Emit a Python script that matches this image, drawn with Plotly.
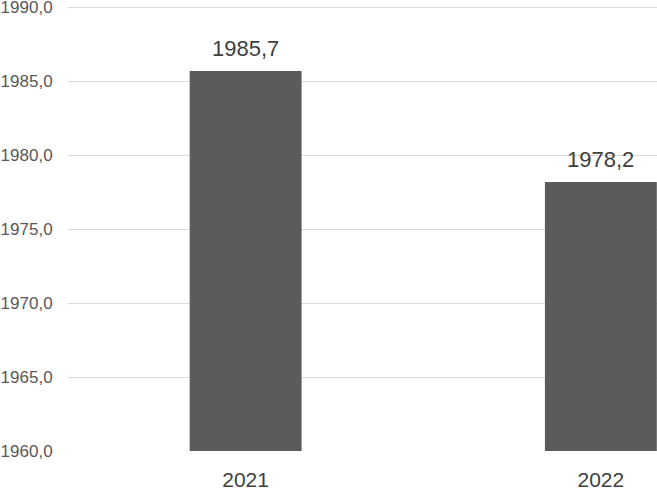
import plotly.graph_objects as go

years = ["2021", "2022"]
values = [1985.7, 1978.2]
y_ticks = [1960, 1965, 1970, 1975, 1980, 1985, 1990]

fig = go.Figure(data=[go.Bar(x=years, y=values, width=0.315,
                             marker=dict(color="#5b5b5b", line=dict(width=0)))])

# data labels above bars (category index as x)
for i, v in enumerate(values):
    fig.add_annotation(x=i, y=v, xref="x", yref="y",
                       text=f"{v:.1f}".replace(".", ","),
                       showarrow=False, yanchor="bottom", yshift=8,
                       font=dict(size=22, color="#404040"))

fig.update_layout(
    width=657, height=491,
    margin=dict(l=68, r=0, t=6, b=40, autoexpand=False),
    plot_bgcolor="white", paper_bgcolor="white",
    separators=", ",
    showlegend=False,
    font=dict(family="Liberation Sans, Arial, sans-serif", color="#595959"),
    xaxis=dict(type="category", range=[-0.5, 1.158], showgrid=False, zeroline=False,
               showline=False, ticks="outside", ticklen=10, tickcolor="white",
               automargin=False, ticklabeloverflow="allow",
               tickfont=dict(size=21, color="#404040")),
    yaxis=dict(range=[1960, 1990.1], tickvals=y_ticks, tickformat=".1f",
               showgrid=True, gridcolor="#d9d9d9", gridwidth=1, zeroline=False,
               showline=False, ticks="outside", ticklen=11, tickcolor="white",
               automargin=False, ticklabeloverflow="allow",
               tickfont=dict(size=17, color="#595959")),
)

fig.write_html("out.html", config={"displayModeBar": False},
               post_script="document.body.style.margin='0';")
